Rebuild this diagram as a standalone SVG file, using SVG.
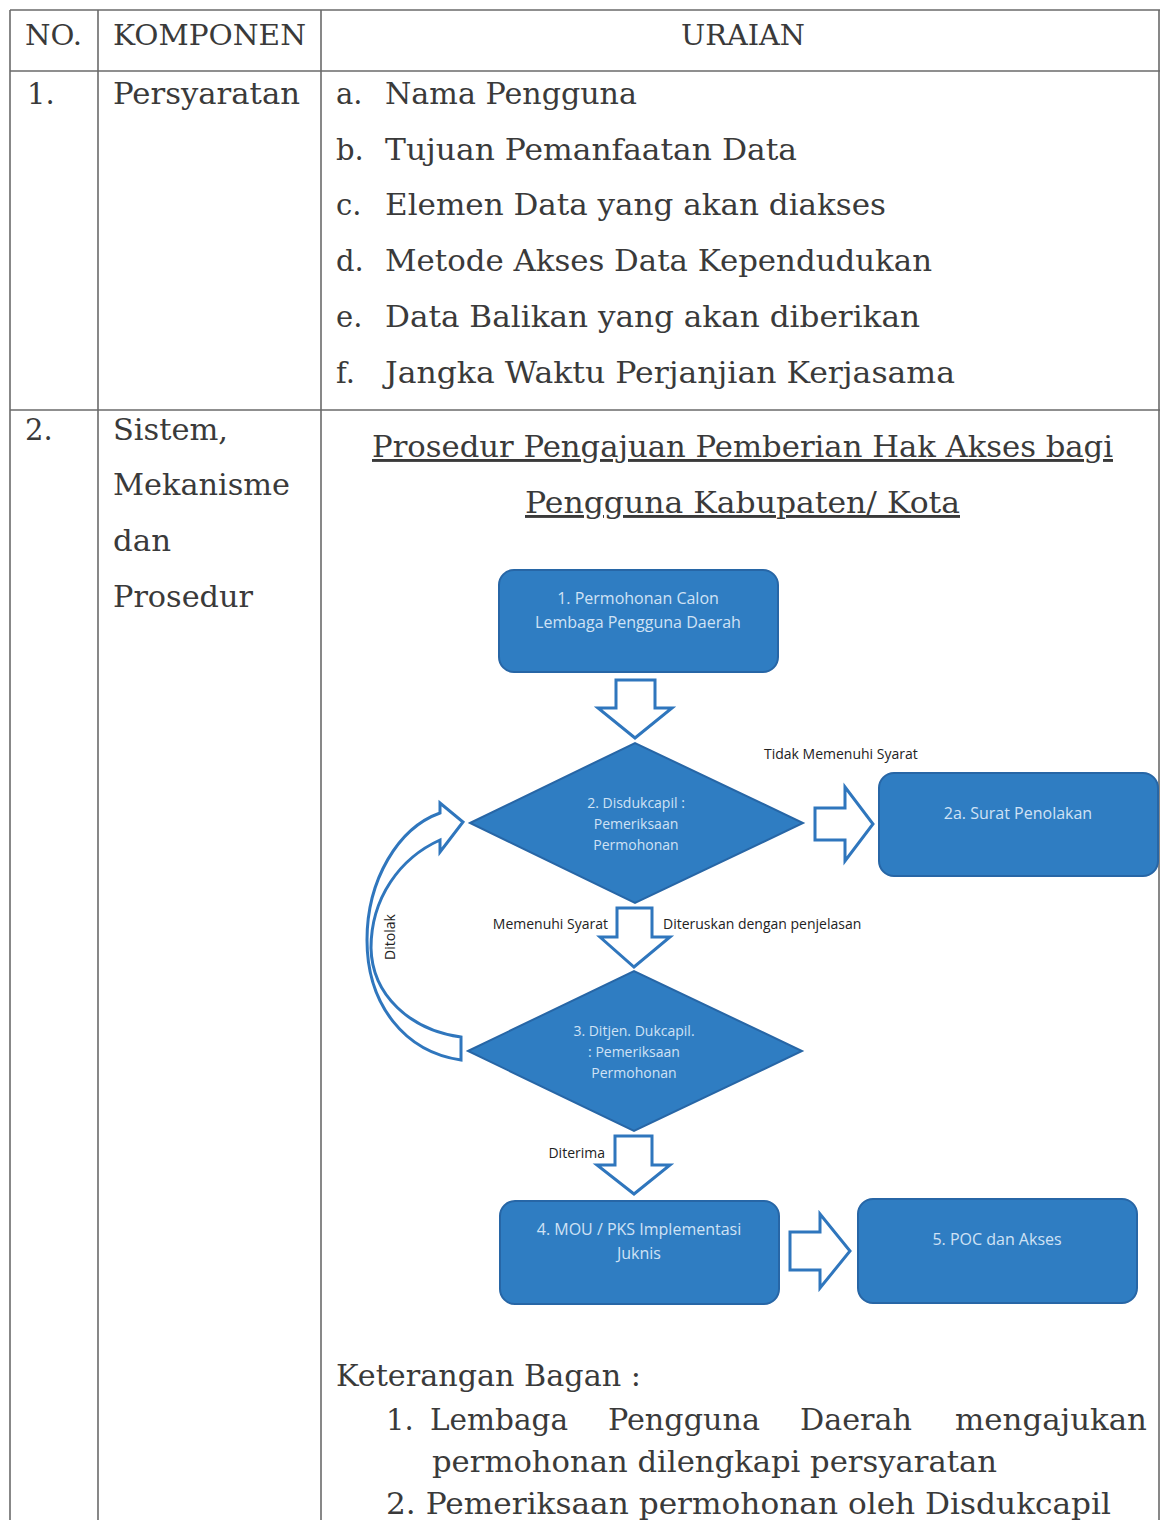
<svg xmlns="http://www.w3.org/2000/svg" width="1160" height="1520" viewBox="0 0 1160 1520">
<style>
.grid{stroke:#6a6a6a;stroke-width:1.6;fill:none}
.t{font-family:"DejaVu Serif","Liberation Serif",serif;fill:#3a3a3a}
.tb{font-size:29px}
.hd{font-size:28px}
.box{fill:#2f7dc2;stroke:#2766a6;stroke-width:2}
.nt{font-family:"Open Sans","Liberation Sans",sans-serif;fill:#cfe2f5;font-size:16px;text-anchor:middle}
.nt.sm{font-size:14px}
.lbl{font-family:"Open Sans","Liberation Sans",sans-serif;fill:#222;font-size:14px}
.arr{fill:#fff;stroke:#2f76bd;stroke-width:3;stroke-linejoin:miter}
</style>
<rect width="1160" height="1520" fill="#ffffff"/>
<g id="table">
<line class="grid" x1="10" y1="10" x2="1160" y2="10"/>
<line class="grid" x1="10" y1="71" x2="1160" y2="71"/>
<line class="grid" x1="10" y1="410" x2="1160" y2="410"/>
<line class="grid" x1="10" y1="10" x2="10" y2="1520"/>
<line class="grid" x1="98" y1="10" x2="98" y2="1520"/>
<line class="grid" x1="321" y1="10" x2="321" y2="1520"/>
<line class="grid" x1="1159" y1="10" x2="1159" y2="1520"/>
</g>
<g id="header">
<text class="t hd" x="25" y="45" textLength="57" lengthAdjust="spacingAndGlyphs">NO.</text>
<text class="t hd" x="113" y="45" textLength="193" lengthAdjust="spacingAndGlyphs">KOMPONEN</text>
<text class="t hd" x="681" y="45" textLength="124" lengthAdjust="spacingAndGlyphs">URAIAN</text>
</g>
<g id="row1">
<text class="t tb" x="27" y="104">1.</text>
<text class="t tb" x="113" y="104" textLength="187" lengthAdjust="spacingAndGlyphs">Persyaratan</text>
<text class="t tb" x="336" y="104">a.</text>
<text class="t tb" x="385" y="104" textLength="252" lengthAdjust="spacingAndGlyphs">Nama Pengguna</text>
<text class="t tb" x="336" y="160">b.</text>
<text class="t tb" x="385" y="160" textLength="412" lengthAdjust="spacingAndGlyphs">Tujuan Pemanfaatan Data</text>
<text class="t tb" x="336" y="215">c.</text>
<text class="t tb" x="385" y="215" textLength="501" lengthAdjust="spacingAndGlyphs">Elemen Data yang akan diakses</text>
<text class="t tb" x="336" y="271">d.</text>
<text class="t tb" x="385" y="271" textLength="547" lengthAdjust="spacingAndGlyphs">Metode Akses Data Kependudukan</text>
<text class="t tb" x="336" y="327">e.</text>
<text class="t tb" x="385" y="327" textLength="535" lengthAdjust="spacingAndGlyphs">Data Balikan yang akan diberikan</text>
<text class="t tb" x="336" y="383">f.</text>
<text class="t tb" x="385" y="383" textLength="570" lengthAdjust="spacingAndGlyphs">Jangka Waktu Perjanjian Kerjasama</text>
</g>
<g id="row2">
<text class="t tb" x="25" y="440">2.</text>
<text class="t tb" x="113" y="440" textLength="115" lengthAdjust="spacingAndGlyphs">Sistem,</text>
<text class="t tb" x="113" y="495" textLength="177" lengthAdjust="spacingAndGlyphs">Mekanisme</text>
<text class="t tb" x="113" y="551" textLength="58" lengthAdjust="spacingAndGlyphs">dan</text>
<text class="t tb" x="113" y="607" textLength="140" lengthAdjust="spacingAndGlyphs">Prosedur</text>
<text class="t tb" x="372" y="457" text-decoration="underline" textLength="741" lengthAdjust="spacingAndGlyphs">Prosedur Pengajuan Pemberian Hak Akses bagi</text>
<text class="t tb" x="525" y="513" text-decoration="underline" textLength="435" lengthAdjust="spacingAndGlyphs">Pengguna Kabupaten/ Kota</text>
</g>
<g id="connectors">
<path class="arr" d="M616,680 L655,680 L655,708 L672,708 L635,738 L598,708 L616,708 Z"/>
<path class="arr" d="M815,808 L845,808 L845,787 L873,824 L845,861 L845,840 L815,840 Z"/>
<path class="arr" d="M617,908 L652,908 L652,937 L670,937 L634,967 L600,937 L617,937 Z"/>
<path class="arr" d="M615,1136 L652,1136 L652,1165 L670,1165 L634,1194 L597,1165 L615,1165 Z"/>
<path class="arr" d="M790,1232 L820,1232 L820,1214 L850,1251 L820,1288 L820,1270 L790,1270 Z"/>
<path class="arr" stroke-width="2.5" d="M440,813 C398,828 367,880 367,940 C367,1005 405,1052 461,1060 L461,1037 C410,1030 372,995 371,948 C371,898 400,858 440,840 L440,852 L463,822 L440,803 Z"/>
<text class="lbl" x="764" y="759">Tidak Memenuhi Syarat</text>
<text class="lbl" x="608" y="929" text-anchor="end">Memenuhi Syarat</text>
<text class="lbl" x="663" y="929">Diteruskan dengan penjelasan</text>
<text class="lbl" x="605" y="1158" text-anchor="end">Diterima</text>
<text class="lbl" transform="translate(395,937) rotate(-90)" text-anchor="middle">Ditolak</text>
</g>
<g id="node1">
<rect class="box" x="499" y="570" width="279" height="102" rx="15"/>
<text class="nt" x="638" y="604">1. Permohonan Calon</text>
<text class="nt" x="638" y="628">Lembaga Pengguna Daerah</text>
</g>
<g id="node2">
<polygon class="box" points="470,823 635,743 803,823 635,903"/>
<text class="nt sm" x="636" y="808">2. Disdukcapil :</text>
<text class="nt sm" x="636" y="829">Pemeriksaan</text>
<text class="nt sm" x="636" y="850">Permohonan</text>
</g>
<g id="node2a">
<rect class="box" x="879" y="773" width="279" height="103" rx="15"/>
<text class="nt" x="1018" y="819">2a. Surat Penolakan</text>
</g>
<g id="node3">
<polygon class="box" points="468,1051 634,971 802,1051 634,1131"/>
<text class="nt sm" x="634" y="1036">3. Ditjen. Dukcapil.</text>
<text class="nt sm" x="634" y="1057">:  Pemeriksaan</text>
<text class="nt sm" x="634" y="1078">Permohonan</text>
</g>
<g id="node4">
<rect class="box" x="500" y="1201" width="279" height="103" rx="15"/>
<text class="nt" x="639" y="1235">4. MOU / PKS Implementasi</text>
<text class="nt" x="639" y="1259">Juknis</text>
</g>
<g id="node5">
<rect class="box" x="858" y="1199" width="279" height="104" rx="15"/>
<text class="nt" x="997" y="1245">5. POC dan Akses</text>
</g>
<g id="keterangan">
<text class="t tb" x="336" y="1386" textLength="305" lengthAdjust="spacingAndGlyphs">Keterangan Bagan :</text>
<text class="t tb" x="386" y="1430">1.</text>
<text class="t tb" x="430" y="1430" textLength="138" lengthAdjust="spacingAndGlyphs">Lembaga</text>
<text class="t tb" x="608" y="1430" textLength="152" lengthAdjust="spacingAndGlyphs">Pengguna</text>
<text class="t tb" x="800" y="1430" textLength="112" lengthAdjust="spacingAndGlyphs">Daerah</text>
<text class="t tb" x="955" y="1430" textLength="192" lengthAdjust="spacingAndGlyphs">mengajukan</text>
<text class="t tb" x="432" y="1472" textLength="565" lengthAdjust="spacingAndGlyphs">permohonan dilengkapi persyaratan</text>
<text class="t tb" x="386" y="1514" textLength="725" lengthAdjust="spacingAndGlyphs">2. Pemeriksaan permohonan oleh Disdukcapil</text>
</g>
</svg>
